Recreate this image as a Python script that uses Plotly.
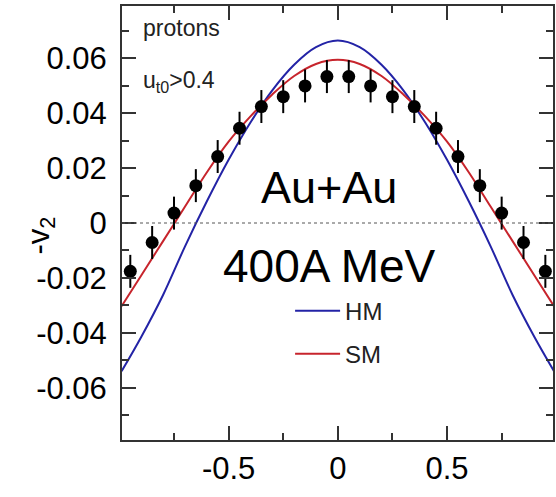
import plotly.graph_objects as go

# measured data points (-v2 vs scaled rapidity)
y0_data = [-0.95, -0.85, -0.75, -0.65, -0.55, -0.45, -0.35, -0.25, -0.15, -0.05,
           0.05, 0.15, 0.25, 0.35, 0.45, 0.55, 0.65, 0.75, 0.85, 0.95]
v2_data = [-0.0176, -0.0071, 0.0036, 0.0136, 0.0242, 0.0345, 0.0424, 0.0460, 0.0499, 0.0533,
           0.0533, 0.0499, 0.0460, 0.0424, 0.0345, 0.0242, 0.0136, 0.0036, -0.0071, -0.0176]
v2_err = [0.006] * 20

# model curves
model_x = [-0.99, -0.9, -0.8, -0.7, -0.6, -0.5, -0.4, -0.3, -0.2, -0.1, 0.0,
           0.1, 0.2, 0.3, 0.4, 0.5, 0.6, 0.7, 0.8, 0.9, 0.99]
hm_vals = [-0.0540, -0.0415, -0.0262, -0.0086, 0.0078, 0.0230, 0.0366, 0.0483, 0.0576, 0.0640, 0.0664,
           0.0640, 0.0576, 0.0483, 0.0366, 0.0230, 0.0078, -0.0086, -0.0262, -0.0415, -0.0540]
sm_vals = [-0.0303, -0.0191, -0.0066, 0.0059, 0.0184, 0.0296, 0.0388, 0.0468, 0.0535, 0.0579, 0.0594,
           0.0579, 0.0535, 0.0468, 0.0388, 0.0296, 0.0184, 0.0059, -0.0066, -0.0191, -0.0303]

x_ticks = [-0.5, 0, 0.5]
x_tick_text = ["-0.5", "0", "0.5"]
y_ticks = [-0.06, -0.04, -0.02, 0, 0.02, 0.04, 0.06]
y_tick_text = ["-0.06", "-0.04", "-0.02", "0", "0.02", "0.04", "0.06"]

FONT = "Liberation Sans, Arial, sans-serif"
AX = "#333333"

fig = go.Figure()
fig.add_trace(go.Scatter(x=model_x, y=hm_vals, mode="lines", name="HM",
                         line=dict(color="#2323a6", width=2, shape="spline"),
                         legend="legend"))
fig.add_trace(go.Scatter(x=model_x, y=sm_vals, mode="lines", name="SM",
                         line=dict(color="#c7242c", width=2, shape="spline"),
                         legend="legend2"))
fig.add_trace(go.Scatter(x=y0_data, y=v2_data, mode="markers", showlegend=False,
                         marker=dict(color="black", size=13),
                         error_y=dict(type="data", array=v2_err, color="black",
                                      thickness=2, width=0)))

axis_common = dict(showline=True, linecolor=AX, linewidth=2, mirror="ticks",
                   ticks="inside", tickcolor=AX, tickwidth=2, ticklen=14,
                   showgrid=False, zeroline=False,
                   tickfont=dict(family=FONT, size=31, color="black"))

fig.update_xaxes(range=[-0.988, 0.985], tickvals=x_ticks, ticktext=x_tick_text,
                 minor=dict(tickvals=[-0.75, -0.25, 0.25, 0.75], ticklen=7,
                            tickcolor=AX, tickwidth=2, ticks="inside"),
                 ticklabelstandoff=0, **axis_common)
fig.update_yaxes(range=[-0.079, 0.079], tickvals=y_ticks, ticktext=y_tick_text,
                 minor=dict(dtick=0.01, ticklen=7, tickcolor=AX, tickwidth=2, ticks="inside"),
                 ticklabelstandoff=7, **axis_common)

# dotted zero line
fig.add_shape(type="line", xref="paper", yref="y", x0=0, x1=1, y0=0, y1=0,
              line=dict(color="#555555", width=1, dash="dot"))

ann = [
    dict(text="protons", x=0.045, y=0.985, xanchor="left", yanchor="top", size=23),
    dict(text="u<sub>t0</sub>>0.4", x=0.045, y=0.865, xanchor="left", yanchor="top", size=23),
]
for a in ann:
    fig.add_annotation(text=a["text"], xref="paper", yref="paper", x=a["x"], y=a["y"],
                       xanchor=a["xanchor"], yanchor=a["yanchor"], showarrow=False,
                       font=dict(family=FONT, size=a["size"], color="#222222"))

fig.add_annotation(text="Au+Au", xref="x", yref="y", x=-0.04, y=0.0128, showarrow=False,
                   font=dict(family=FONT, size=45, color="black"))
fig.add_annotation(text="400A MeV", xref="x", yref="y", x=-0.04, y=-0.0155, showarrow=False,
                   font=dict(family=FONT, size=46, color="black"))
fig.add_annotation(text="-v<sub>2</sub>", xref="paper", yref="paper", x=-0.24, y=0.47,
                   textangle=-90, showarrow=False,
                   font=dict(family=FONT, size=31, color="black"))
fig.add_annotation(text="y<sub>0</sub><sup>(0)</sup>", xref="paper", yref="paper",
                   x=0.5, y=-0.118, xanchor="center", yanchor="top", showarrow=False,
                   font=dict(family=FONT, size=31, color="black"))

leg = dict(font=dict(family=FONT, size=24, color="#222222"), bgcolor="rgba(0,0,0,0)",
           xanchor="left", yanchor="middle", itemwidth=45)
fig.update_layout(
    width=556, height=497,
    margin=dict(l=122, r=1, t=6, b=57),
    paper_bgcolor="white", plot_bgcolor="white",
    legend=dict(x=0.39, y=0.297, **leg),
    legend2=dict(x=0.39, y=0.198, **leg),
)

fig.write_html("out.html")
